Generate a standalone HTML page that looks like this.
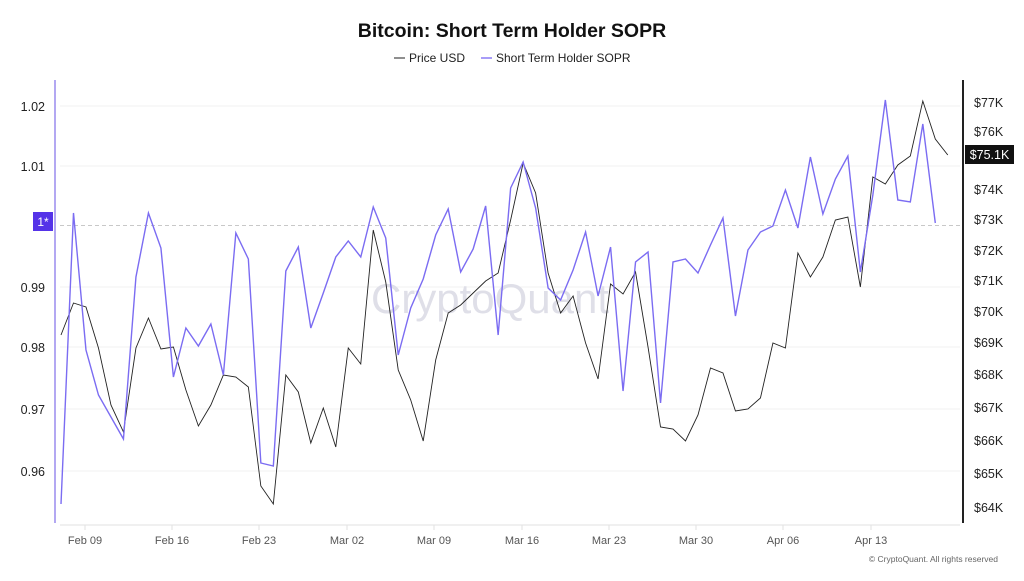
<!DOCTYPE html>
<html><head><meta charset="utf-8"><style>
html,body{margin:0;padding:0;background:#fff;}
body{width:1024px;height:576px;overflow:hidden;font-family:"Liberation Sans",sans-serif;}
</style></head><body>
<svg width="1024" height="576" viewBox="0 0 1024 576" xmlns="http://www.w3.org/2000/svg" font-family="Liberation Sans, sans-serif">
<text x="512" y="37" text-anchor="middle" font-size="19.5" font-weight="bold" fill="#111">Bitcoin: Short Term Holder SOPR</text>
<line x1="394" y1="58" x2="405" y2="58" stroke="#444" stroke-width="1.2"/>
<text x="409" y="62" font-size="12" fill="#222">Price USD</text>
<line x1="481" y1="58" x2="492" y2="58" stroke="#8b7cf5" stroke-width="1.5"/>
<text x="496" y="62" font-size="12" fill="#222">Short Term Holder SOPR</text>
<g stroke="#f2f2f2" stroke-width="1">
<line x1="60" y1="106" x2="960" y2="106"/><line x1="60" y1="166" x2="960" y2="166"/>
<line x1="60" y1="287" x2="960" y2="287"/><line x1="60" y1="347" x2="960" y2="347"/>
<line x1="60" y1="409" x2="960" y2="409"/><line x1="60" y1="471" x2="960" y2="471"/>
</g>
<line x1="60" y1="225.5" x2="960" y2="225.5" stroke="#c8c8c8" stroke-dasharray="4,3"/>
<text x="490" y="313" text-anchor="middle" font-size="42" fill="#dfdfe8">CryptoQuant</text>
<line x1="60" y1="525" x2="960" y2="525" stroke="#e2e2e2"/>
<g stroke="#e2e2e2"><line x1="85" y1="525" x2="85" y2="530"/><line x1="172" y1="525" x2="172" y2="530"/><line x1="259" y1="525" x2="259" y2="530"/><line x1="347" y1="525" x2="347" y2="530"/><line x1="434" y1="525" x2="434" y2="530"/><line x1="522" y1="525" x2="522" y2="530"/><line x1="609" y1="525" x2="609" y2="530"/><line x1="696" y1="525" x2="696" y2="530"/><line x1="783" y1="525" x2="783" y2="530"/><line x1="871" y1="525" x2="871" y2="530"/></g>
<g font-size="11" fill="#555" text-anchor="middle">
<text x="85" y="544">Feb 09</text><text x="172" y="544">Feb 16</text><text x="259" y="544">Feb 23</text><text x="347" y="544">Mar 02</text><text x="434" y="544">Mar 09</text><text x="522" y="544">Mar 16</text><text x="609" y="544">Mar 23</text><text x="696" y="544">Mar 30</text><text x="783" y="544">Apr 06</text><text x="871" y="544">Apr 13</text>
</g>
<text x="998" y="562" text-anchor="end" font-size="8.5" fill="#666">© CryptoQuant. All rights reserved</text>
<line x1="55" y1="80" x2="55" y2="523" stroke="#b3a8f2" stroke-width="2"/>
<g font-size="12.5" fill="#222" text-anchor="end">
<text x="45" y="111">1.02</text><text x="45" y="171">1.01</text><text x="45" y="292">0.99</text><text x="45" y="352">0.98</text><text x="45" y="414">0.97</text><text x="45" y="476">0.96</text>
</g>
<rect x="33" y="212" width="20" height="19" fill="#5533e8"/>
<text x="43" y="226" text-anchor="middle" font-size="12" fill="#fff">1*</text>
<line x1="963" y1="80" x2="963" y2="523" stroke="#222" stroke-width="2"/>
<g font-size="12.5" fill="#222">
<text x="974" y="107">$77K</text><text x="974" y="136">$76K</text><text x="974" y="194">$74K</text><text x="974" y="224">$73K</text><text x="974" y="255">$72K</text><text x="974" y="285">$71K</text><text x="974" y="316">$70K</text><text x="974" y="347">$69K</text><text x="974" y="379">$68K</text><text x="974" y="412">$67K</text><text x="974" y="445">$66K</text><text x="974" y="478">$65K</text><text x="974" y="512">$64K</text>
</g>
<rect x="965" y="145" width="49" height="19" fill="#111"/>
<text x="989.5" y="159" text-anchor="middle" font-size="12.5" fill="#fff">$75.1K</text>
<g transform="translate(61,0) scale(12.49,1)" fill="none">
<polyline vector-effect="non-scaling-stroke" stroke="#222" stroke-width="0.9" points="0,335 1,303 2,307 3,348 4,405 5,432 6,348 7,318 8,349 9,347 10,390 11,426 12,405 13,375 14,377 15,387 16,486 17,504 18,375 19,392 20,443 21,408 22,447 23,348 24,364 25,230 26,282 27,370 28,400 29,441 30,360 31,313 32,305 33,293 34,281 35,273 36,220 37,163 38,193 39,273 40,313 41,296 42,343 43,379 44,284 45,294 46,272 47,347 48,427 49,429 50,441 51,415 52,368 53,373 54,411 55,409 56,398 57,343 58,348 59,253 60,277 61,257 62,220 63,217 64,287 65,177 66,184 67,165 68,156 69,101 70,139 71,155"/>
<polyline vector-effect="non-scaling-stroke" stroke="#7b6cf2" stroke-width="1.4" points="0,504 1,213 2,350 3,395 4,417 5,439 6,277 7,213 8,248 9,377 10,328 11,346 12,324 13,375 14,233 15,259 16,463 17,466 18,271 19,247 20,328 21,293 22,257 23,241 24,257 25,207 26,238 27,355 28,308 29,279 30,235 31,209 32,272 33,249 34,206 35,335 36,188 37,162 38,208 39,288 40,300 41,270 42,232 43,296 44,247 45,391 46,262 47,252 48,403 49,262 50,259 51,273 52,245 53,218 54,316 55,250 56,232 57,226 58,190 59,228 60,157 61,214 62,179 63,156 64,272 65,195 66,100 67,200 68,202 69,124 70,223"/>
</g>
</svg>
</body></html>
